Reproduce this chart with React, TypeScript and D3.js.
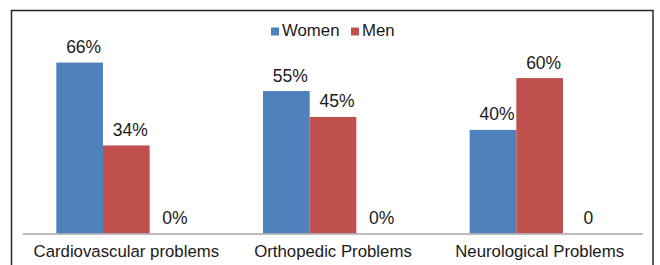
import React from "react";
import * as d3 from "d3";

const categories = ["Cardiovascular problems", "Orthopedic Problems", "Neurological Problems"];
const seriesNames = ["Women", "Men", "Other"];
const womenValues = [0.66, 0.55, 0.40];
const menValues = [0.34, 0.45, 0.60];
const otherValues = [0, 0, 0];
const womenLabels = ["66%", "55%", "40%"];
const menLabels = ["34%", "45%", "60%"];
const otherLabels = ["0%", "0%", "0"];
const legendSeries = ["Women", "Men"];

const W = 660;
const H = 265;
const colors: Record<string, string> = { Women: "#4F81BD", Men: "#C0504D", Other: "#9BBB59" };
const font = "'Liberation Sans', Arial, sans-serif";

export default function App() {
  const x0 = d3.scaleBand<string>().domain(categories).range([23, 643]).paddingInner(0.3226).paddingOuter(0.1613);
  const x1 = d3.scaleBand<string>().domain(seriesNames).range([0, x0.bandwidth()]);
  const y = d3.scaleLinear().domain([0, 0.7]).range([233.5, 52.2]);
  const data = [
    { name: "Women", values: womenValues, labels: womenLabels },
    { name: "Men", values: menValues, labels: menLabels },
    { name: "Other", values: otherValues, labels: otherLabels },
  ];
  const legendX: Record<string, number> = { Women: 271, Men: 351 };
  return (
    <svg width={W} height={H} style={{ position: "absolute", left: 0, top: 0, display: "block" }} fontFamily={font}>
      <rect x={0} y={0} width={W} height={H} fill="#fff" />
      <rect x={11.5} y={10.5} width={641.5} height={270} fill="none" stroke="#262626" strokeWidth={1.5} />
      {legendSeries.map((s) => (
        <g key={s}>
          <rect x={legendX[s]} y={27.5} width={8} height={8} fill={colors[s]} />
          <text x={legendX[s] + 11} y={35.5} fontSize={16.8} fill="#1a1a1a">{s}</text>
        </g>
      ))}
      {data.map((s) =>
        categories.map((c, i) => {
          const bx = (x0(c) as number) + (x1(s.name) as number);
          const bw = x1.bandwidth();
          const top = y(s.values[i]);
          return (
            <g key={s.name + c}>
              {s.values[i] > 0 && (
                <rect x={bx} y={top} width={bw} height={y(0) - top} fill={colors[s.name]} />
              )}
              <text x={bx + bw / 2 + (s.values[i] > 0 ? 4 : 2)} y={top - 9.5} fontSize={17.5} textAnchor="middle" fill="#1a1a1a">
                {s.labels[i]}
              </text>
            </g>
          );
        })
      )}
      <line x1={23} x2={643} y1={y(0) + 0.5} y2={y(0) + 0.5} stroke="#A6A6A6" strokeWidth={1.5} />
      {categories.map((c) => (
        <text key={c} x={(x0(c) as number) + x0.bandwidth() / 2} y={256.5} fontSize={16.8} textAnchor="middle" fill="#1a1a1a">
          {c}
        </text>
      ))}
    </svg>
  );
}
